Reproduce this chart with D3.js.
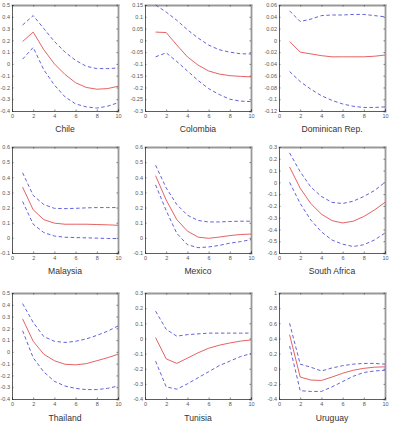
<!DOCTYPE html>
<html>
<head>
<meta charset="utf-8">
<script src="https://cdn.jsdelivr.net/npm/d3@7"></script>
<style>
  body { margin: 0; background: #fff; }
  svg { display: block; }
  .tick text { font-family: "Liberation Sans", Arial, sans-serif; font-size: 5.5px; fill: #555; }
  .title { font-family: "Liberation Sans", Arial, sans-serif; font-size: 8.6px; fill: #333; }
</style>
</head>
<body>
<svg width="393" height="428"></svg>
<script>
const svg = d3.select('svg');

const countries = ['Chile', 'Colombia', 'Dominican Rep.', 'Malaysia', 'Mexico', 'South Africa', 'Thailand', 'Tunisia', 'Uruguay'];
const periods = [1, 2, 3, 4, 5, 6, 7, 8, 9, 10];
const xTicks = [0, 2, 4, 6, 8, 10];

// y axis: [min, max, step]
const yAxes = [
  [-0.4, 0.5, 0.1],
  [-0.3, 0.15, 0.05],
  [-0.12, 0.06, 0.02],
  [-0.1, 0.6, 0.1],
  [-0.1, 0.6, 0.1],
  [-0.6, 0.3, 0.1],
  [-0.4, 0.5, 0.1],
  [-0.4, 0.3, 0.1],
  [-0.4, 1, 0.2]
];

const irf = [
  [0.19, 0.27, 0.12, 0.0, -0.09, -0.16, -0.20, -0.215, -0.21, -0.19],
  [0.035, 0.033, -0.02, -0.07, -0.105, -0.13, -0.143, -0.15, -0.153, -0.155],
  [-0.002, -0.02, -0.023, -0.026, -0.028, -0.028, -0.028, -0.028, -0.027, -0.025],
  [0.335, 0.185, 0.12, 0.097, 0.09, 0.09, 0.09, 0.088, 0.086, 0.083],
  [0.41, 0.25, 0.12, 0.045, 0.005, -0.003, 0.005, 0.015, 0.022, 0.025],
  [0.13, -0.05, -0.18, -0.27, -0.325, -0.345, -0.33, -0.29, -0.235, -0.17],
  [0.28, 0.09, -0.02, -0.075, -0.105, -0.11, -0.1, -0.075, -0.05, -0.02],
  [0.005, -0.135, -0.165, -0.13, -0.095, -0.065, -0.045, -0.03, -0.018, -0.01],
  [0.45, -0.11, -0.15, -0.155, -0.11, -0.06, -0.02, 0.005, 0.02, 0.025]
];

const upper = [
  [0.33, 0.41, 0.30, 0.19, 0.10, 0.03, -0.02, -0.04, -0.04, -0.035],
  [0.15, 0.12, 0.085, 0.045, 0.01, -0.02, -0.04, -0.05, -0.057, -0.058],
  [0.05, 0.032, 0.036, 0.042, 0.043, 0.043, 0.044, 0.044, 0.042, 0.040],
  [0.43, 0.28, 0.22, 0.195, 0.193, 0.195, 0.198, 0.2, 0.2, 0.2],
  [0.48, 0.33, 0.22, 0.15, 0.115, 0.105, 0.105, 0.108, 0.11, 0.11],
  [0.25, 0.09, -0.04, -0.12, -0.17, -0.18, -0.16, -0.12, -0.07, 0.0],
  [0.41, 0.25, 0.13, 0.09, 0.08, 0.09, 0.11, 0.14, 0.175, 0.22],
  [0.18, 0.06, 0.015, 0.025, 0.03, 0.035, 0.035, 0.035, 0.035, 0.035],
  [0.6, 0.06, 0.02, -0.03, 0.01, 0.04, 0.06, 0.07, 0.07, 0.06]
];

const lower = [
  [0.04, 0.14, -0.05, -0.18, -0.28, -0.34, -0.365, -0.375, -0.36, -0.33],
  [-0.07, -0.053, -0.09, -0.13, -0.17, -0.205, -0.23, -0.25, -0.258, -0.26],
  [-0.053, -0.07, -0.083, -0.094, -0.102, -0.108, -0.112, -0.114, -0.114, -0.113],
  [0.24, 0.09, 0.035, 0.012, 0.004, 0.002, 0.0, -0.002, -0.004, -0.005],
  [0.35, 0.18, 0.03, -0.045, -0.065, -0.06, -0.05, -0.035, -0.025, -0.012],
  [0.0, -0.18, -0.32, -0.42, -0.49, -0.525, -0.545, -0.53, -0.49, -0.43],
  [0.18, -0.05, -0.17, -0.25, -0.29, -0.31, -0.32, -0.32, -0.31, -0.29],
  [-0.15, -0.32, -0.335, -0.3, -0.26, -0.22, -0.18, -0.15, -0.12, -0.1],
  [0.3, -0.29, -0.3, -0.3, -0.24, -0.17, -0.1, -0.05, -0.03, -0.02]
];

const colLeft = [12, 145, 279];
const rowTop = [5, 147, 293];
const titleY = [132, 274, 421];
const w = 106;
const h = 106;

const fmt = v => String(+v.toFixed(3));

countries.forEach((name, i) => {
  const col = i % 3;
  const row = Math.floor(i / 3);
  const [ymin, ymax, step] = yAxes[i];
  const n = Math.round((ymax - ymin) / step);
  const yTicks = d3.range(n + 1).map(k => +(ymin + k * step).toFixed(3));

  const x = d3.scaleLinear().domain([0, 10]).range([0, w]);
  const y = d3.scaleLinear().domain([ymin, ymax]).range([h, 0]);

  const g = svg.append('g')
    .attr('transform', `translate(${colLeft[col]}, ${rowTop[row]})`);

  // top and right frame, grey
  const top = g.append('g').call(d3.axisTop(x).tickValues(xTicks).tickSize(-1.5).tickFormat(''));
  const right = g.append('g').attr('transform', `translate(${w}, 0)`)
    .call(d3.axisRight(y).tickValues(yTicks).tickSize(-1.5).tickFormat(''));
  [top, right].forEach(a => {
    a.select('.domain').attr('stroke', '#999').attr('stroke-width', 1.8);
    a.selectAll('.tick line').attr('stroke', '#333').attr('stroke-width', 0.6);
  });

  const xAxis = g.append('g').attr('transform', `translate(0, ${h})`)
    .call(d3.axisBottom(x).tickValues(xTicks).tickSize(-1.5).tickPadding(3).tickFormat(fmt));
  const yAxis = g.append('g')
    .call(d3.axisLeft(y).tickValues(yTicks).tickSize(-1.5).tickPadding(2).tickFormat(fmt));
  [xAxis, yAxis].forEach(a => {
    a.select('.domain').attr('stroke', '#333').attr('stroke-width', 0.8);
    a.selectAll('.tick line').attr('stroke', '#333').attr('stroke-width', 0.6);
  });

  const line = d3.line().x((d, k) => x(periods[k])).y(d => y(d));

  g.append('path')
    .attr('d', line(upper[i]))
    .attr('fill', 'none').attr('stroke', '#3a3ad0').attr('stroke-width', 0.8)
    .attr('stroke-dasharray', '3.5,2.5');
  g.append('path')
    .attr('d', line(lower[i]))
    .attr('fill', 'none').attr('stroke', '#3a3ad0').attr('stroke-width', 0.8)
    .attr('stroke-dasharray', '3.5,2.5');
  g.append('path')
    .attr('d', line(irf[i]))
    .attr('fill', 'none').attr('stroke', '#e03a3a').attr('stroke-width', 0.8);

  svg.append('text')
    .attr('class', 'title')
    .attr('x', colLeft[col] + w / 2)
    .attr('y', titleY[row])
    .attr('text-anchor', 'middle')
    .text(name);
});
</script>
</body>
</html>
